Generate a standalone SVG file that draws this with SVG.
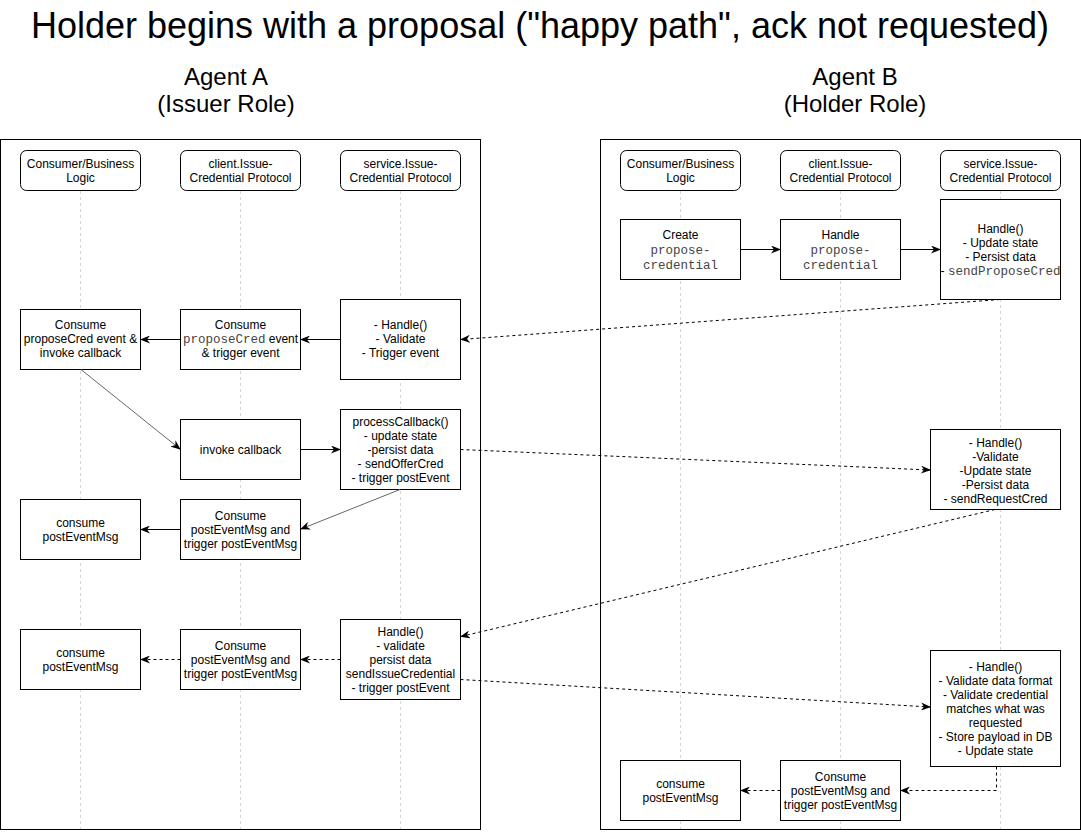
<svg xmlns="http://www.w3.org/2000/svg" width="1081" height="832" viewBox="0 0 1081 832">
<style>
.bg{fill:#fff}
.panel{fill:#fff;stroke:#000;stroke-width:1}
.hdr{fill:#fff;stroke:#000;stroke-width:1}
.box{fill:#fff;stroke:#000;stroke-width:1}
.life{stroke:#d4d4d4;stroke-width:1;stroke-dasharray:3 3;fill:none}
.t{font-family:"Liberation Sans",Arial,Helvetica,sans-serif;font-size:12px;fill:#000;text-anchor:middle}
.m{font-family:"Liberation Mono","Courier New",monospace;font-size:12.5px;fill:#444}
.title{font-family:"Liberation Sans",Arial,Helvetica,sans-serif;font-size:36px;fill:#000;text-anchor:middle}
.agent{font-family:"Liberation Sans",Arial,Helvetica,sans-serif;font-size:24px;fill:#000;text-anchor:middle}
.solid{stroke:#000;stroke-width:1;fill:none;marker-end:url(#ah)}
.dash{stroke:#000;stroke-width:1;fill:none;stroke-dasharray:3 3;marker-end:url(#ah)}
.gray{stroke:#666;stroke-width:1;fill:none;marker-end:url(#ah)}
</style>
<defs>
<marker id="ah" viewBox="0 0 10 8" refX="9" refY="4" markerWidth="10" markerHeight="8" markerUnits="userSpaceOnUse" orient="auto">
<path d="M0,0 L10,4 L0,8 L3,4 Z" fill="#000"/>
</marker>
</defs>
<rect class="bg" x="0" y="0" width="1081" height="832"/>
<text class="title" x="540" y="38">Holder begins with a proposal ("happy path", ack not requested)</text>
<text class="agent" x="226" y="85">Agent A</text>
<text class="agent" x="226" y="112">(Issuer Role)</text>
<text class="agent" x="855" y="85">Agent B</text>
<text class="agent" x="855" y="112">(Holder Role)</text>

<rect class="panel" x="0.5" y="139.5" width="480" height="690"/>
<rect class="panel" x="600.5" y="139.5" width="480" height="690"/>

<g id="lifelines">
<line class="life" x1="80.5" y1="191" x2="80.5" y2="829"/>
<line class="life" x1="240.5" y1="191" x2="240.5" y2="829"/>
<line class="life" x1="400.5" y1="191" x2="400.5" y2="829"/>
<line class="life" x1="680.5" y1="191" x2="680.5" y2="829"/>
<line class="life" x1="840.5" y1="191" x2="840.5" y2="829"/>
<line class="life" x1="1000.5" y1="191" x2="1000.5" y2="829"/>
</g>

<g id="hdrA1"><rect class="hdr" x="20.5" y="150.5" width="120" height="40" rx="6"/><text class="t" x="80.5" y="168">Consumer/Business</text><text class="t" x="80.5" y="182">Logic</text></g>
<g id="hdrA2"><rect class="hdr" x="180.5" y="150.5" width="120" height="40" rx="6"/><text class="t" x="240.5" y="168">client.Issue-</text><text class="t" x="240.5" y="182">Credential Protocol</text></g>
<g id="hdrA3"><rect class="hdr" x="340.5" y="150.5" width="120" height="40" rx="6"/><text class="t" x="400.5" y="168">service.Issue-</text><text class="t" x="400.5" y="182">Credential Protocol</text></g>
<g id="hdrB1"><rect class="hdr" x="620.5" y="150.5" width="120" height="40" rx="6"/><text class="t" x="680.5" y="168">Consumer/Business</text><text class="t" x="680.5" y="182">Logic</text></g>
<g id="hdrB2"><rect class="hdr" x="780.5" y="150.5" width="120" height="40" rx="6"/><text class="t" x="840.5" y="168">client.Issue-</text><text class="t" x="840.5" y="182">Credential Protocol</text></g>
<g id="hdrB3"><rect class="hdr" x="940.5" y="150.5" width="120" height="40" rx="6"/><text class="t" x="1000.5" y="168">service.Issue-</text><text class="t" x="1000.5" y="182">Credential Protocol</text></g>

<g id="B1"><rect class="box" x="620.5" y="219.5" width="120" height="60"/><text class="t" x="680.5" y="239">Create</text><text class="t" x="680.5" y="254"><tspan class="m">propose-</tspan></text><text class="t" x="680.5" y="269"><tspan class="m">credential</tspan></text></g>
<g id="B2"><rect class="box" x="780.5" y="219.5" width="120" height="60"/><text class="t" x="840.5" y="239">Handle</text><text class="t" x="840.5" y="254"><tspan class="m">propose-</tspan></text><text class="t" x="840.5" y="269"><tspan class="m">credential</tspan></text></g>
<g id="B3"><rect class="box" x="940.5" y="199.5" width="120" height="100"/><text class="t" x="1000.5" y="233">Handle()</text><text class="t" x="1000.5" y="247">- Update state</text><text class="t" x="1000.5" y="261">- Persist data</text><text class="t" x="1000.5" y="275">- <tspan class="m">sendProposeCred</tspan></text></g>

<g id="A1"><rect class="box" x="20.5" y="309.5" width="120" height="60"/><text class="t" x="80.5" y="329">Consume</text><text class="t" x="80.5" y="343">proposeCred event &amp;</text><text class="t" x="80.5" y="357">invoke callback</text></g>
<g id="A2"><rect class="box" x="180.5" y="309.5" width="120" height="60"/><text class="t" x="240.5" y="329">Consume</text><text class="t" x="240.5" y="343"><tspan class="m">proposeCred</tspan> event</text><text class="t" x="240.5" y="357">&amp; trigger event</text></g>
<g id="A3"><rect class="box" x="340.5" y="299.5" width="120" height="80"/><text class="t" x="400.5" y="329">- Handle()</text><text class="t" x="400.5" y="343">- Validate</text><text class="t" x="400.5" y="357">- Trigger event</text></g>

<g id="A4"><rect class="box" x="180.5" y="419.5" width="120" height="60"/><text class="t" x="240.5" y="454">invoke callback</text></g>
<g id="A5"><rect class="box" x="340.5" y="409.5" width="120" height="80"/><text class="t" x="400.5" y="426">processCallback()</text><text class="t" x="400.5" y="440">- update state</text><text class="t" x="400.5" y="454">-persist data</text><text class="t" x="400.5" y="468">- sendOfferCred</text><text class="t" x="400.5" y="482">- trigger postEvent</text></g>

<g id="B4"><rect class="box" x="930.5" y="429.5" width="130" height="80"/><text class="t" x="995.5" y="447">- Handle()</text><text class="t" x="995.5" y="461">-Validate</text><text class="t" x="995.5" y="475">-Update state</text><text class="t" x="995.5" y="489">-Persist data</text><text class="t" x="995.5" y="503">- sendRequestCred</text></g>

<g id="A6"><rect class="box" x="20.5" y="499.5" width="120" height="60"/><text class="t" x="80.5" y="527">consume</text><text class="t" x="80.5" y="541">postEventMsg</text></g>
<g id="A7"><rect class="box" x="180.5" y="499.5" width="120" height="60"/><text class="t" x="240.5" y="520">Consume</text><text class="t" x="240.5" y="534">postEventMsg and</text><text class="t" x="240.5" y="548">trigger postEventMsg</text></g>

<g id="A8"><rect class="box" x="20.5" y="629.5" width="120" height="60"/><text class="t" x="80.5" y="657">consume</text><text class="t" x="80.5" y="671">postEventMsg</text></g>
<g id="A9"><rect class="box" x="180.5" y="629.5" width="120" height="60"/><text class="t" x="240.5" y="650">Consume</text><text class="t" x="240.5" y="664">postEventMsg and</text><text class="t" x="240.5" y="678">trigger postEventMsg</text></g>
<g id="A10"><rect class="box" x="340.5" y="619.5" width="120" height="80"/><text class="t" x="400.5" y="636">Handle()</text><text class="t" x="400.5" y="650">- validate</text><text class="t" x="400.5" y="664">persist data</text><text class="t" x="400.5" y="678">sendIssueCredential</text><text class="t" x="400.5" y="692">- trigger postEvent</text></g>

<g id="B5"><rect class="box" x="930.5" y="650.5" width="130" height="116"/><text class="t" x="995.5" y="671">- Handle()</text><text class="t" x="995.5" y="685">- Validate data format</text><text class="t" x="995.5" y="699">- Validate credential</text><text class="t" x="995.5" y="713">matches what was</text><text class="t" x="995.5" y="727">requested</text><text class="t" x="995.5" y="741">- Store payload in DB</text><text class="t" x="995.5" y="755">- Update state</text></g>

<g id="B6"><rect class="box" x="620.5" y="760.5" width="120" height="60"/><text class="t" x="680.5" y="788">consume</text><text class="t" x="680.5" y="802">postEventMsg</text></g>
<g id="B7"><rect class="box" x="780.5" y="760.5" width="120" height="60"/><text class="t" x="840.5" y="781">Consume</text><text class="t" x="840.5" y="795">postEventMsg and</text><text class="t" x="840.5" y="809">trigger postEventMsg</text></g>

<g id="connectors">
<line class="solid" x1="740.5" y1="249.5" x2="780" y2="249.5"/>
<line class="solid" x1="900.5" y1="249.5" x2="940" y2="249.5"/>
<line class="dash" x1="1000" y1="299.5" x2="461" y2="339.5"/>
<line class="solid" x1="340.5" y1="339.5" x2="301" y2="339.5"/>
<line class="solid" x1="180.5" y1="339.5" x2="141" y2="339.5"/>
<line class="gray" x1="81" y1="369.5" x2="180" y2="449"/>
<line class="solid" x1="300.5" y1="449.5" x2="340" y2="449.5"/>
<line class="dash" x1="460.5" y1="449.5" x2="930" y2="470"/>
<line class="gray" x1="400" y1="489.5" x2="301" y2="529"/>
<line class="solid" x1="180.5" y1="529.5" x2="141" y2="529.5"/>
<line class="dash" x1="995" y1="509.5" x2="461" y2="636.5"/>
<line class="dash" x1="340.5" y1="659.5" x2="301" y2="659.5"/>
<line class="dash" x1="180.5" y1="659.5" x2="141" y2="659.5"/>
<line class="dash" x1="460.5" y1="679.5" x2="930" y2="707"/>
<polyline class="dash" points="996.5,766.5 996.5,790.5 901,790.5"/>
<line class="dash" x1="780.5" y1="790.5" x2="741" y2="790.5"/>
</g>
</svg>
